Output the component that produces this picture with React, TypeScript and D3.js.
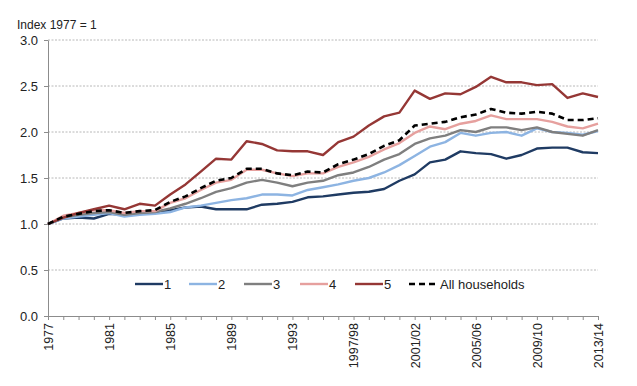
import * as d3 from "d3";
import { useRef, useEffect } from "react";

const years = [
  "1977", "1978", "1979", "1980", "1981", "1982", "1983", "1984", "1985", "1986",
  "1987", "1988", "1989", "1990", "1991", "1992", "1993", "1994/95", "1995/96",
  "1996/97", "1997/98", "1998/99", "1999/00", "2000/01", "2001/02", "2002/03",
  "2003/04", "2004/05", "2005/06", "2006/07", "2007/08", "2008/09", "2009/10",
  "2010/11", "2011/12", "2012/13", "2013/14",
];
const labelYears = ["1977", "1981", "1985", "1989", "1993", "1997/98", "2001/02", "2005/06", "2009/10", "2013/14"];
const yTicks = [0, 0.5, 1, 1.5, 2, 2.5, 3];

const q1 = [1.00, 1.06, 1.07, 1.06, 1.11, 1.10, 1.11, 1.12, 1.15, 1.18, 1.19, 1.16, 1.16, 1.16, 1.21, 1.22, 1.24, 1.29, 1.30, 1.32, 1.34, 1.35, 1.38, 1.47, 1.54, 1.67, 1.70, 1.79, 1.77, 1.76, 1.71, 1.75, 1.82, 1.83, 1.83, 1.78, 1.77];
const q2 = [1.00, 1.06, 1.08, 1.10, 1.12, 1.08, 1.10, 1.11, 1.13, 1.18, 1.20, 1.23, 1.26, 1.28, 1.32, 1.32, 1.31, 1.37, 1.40, 1.43, 1.47, 1.50, 1.56, 1.64, 1.74, 1.84, 1.89, 1.99, 1.96, 1.99, 2.00, 1.96, 2.04, 2.00, 1.99, 1.97, 2.01];
const q3 = [1.00, 1.07, 1.10, 1.12, 1.13, 1.10, 1.12, 1.13, 1.17, 1.22, 1.28, 1.35, 1.39, 1.45, 1.48, 1.45, 1.41, 1.45, 1.47, 1.53, 1.56, 1.62, 1.70, 1.76, 1.87, 1.93, 1.96, 2.02, 2.00, 2.05, 2.05, 2.02, 2.05, 2.00, 1.98, 1.96, 2.02];
const q4 = [1.00, 1.09, 1.12, 1.15, 1.15, 1.12, 1.14, 1.14, 1.23, 1.28, 1.37, 1.45, 1.48, 1.59, 1.59, 1.55, 1.52, 1.55, 1.55, 1.62, 1.67, 1.73, 1.81, 1.88, 1.99, 2.06, 2.03, 2.09, 2.12, 2.18, 2.14, 2.14, 2.14, 2.11, 2.06, 2.04, 2.09];
const q5 = [1.00, 1.07, 1.12, 1.16, 1.20, 1.16, 1.22, 1.20, 1.32, 1.43, 1.57, 1.71, 1.70, 1.90, 1.87, 1.80, 1.79, 1.79, 1.75, 1.89, 1.95, 2.07, 2.17, 2.21, 2.45, 2.36, 2.42, 2.41, 2.49, 2.60, 2.54, 2.54, 2.51, 2.52, 2.37, 2.42, 2.38];
const allHouseholds = [1.00, 1.08, 1.11, 1.14, 1.15, 1.12, 1.14, 1.15, 1.24, 1.30, 1.39, 1.47, 1.50, 1.60, 1.60, 1.55, 1.53, 1.57, 1.56, 1.65, 1.70, 1.76, 1.85, 1.91, 2.07, 2.09, 2.11, 2.16, 2.19, 2.25, 2.21, 2.20, 2.22, 2.20, 2.13, 2.13, 2.15];

const seriesNames = ["1", "2", "3", "4", "5", "All households"];
const seriesValues = [q1, q2, q3, q4, q5, allHouseholds];
const seriesColors = ["#1f3b63", "#8db4e2", "#7f7f7f", "#e6a09e", "#953735", "#000000"];

const W = 637, H = 386;
const left = 48, right = 598, top = 40, bottom = 316;
const font = "'Liberation Sans', Arial, sans-serif";

export default function App() {
  const xAxisRef = useRef<SVGGElement>(null);
  const yAxisRef = useRef<SVGGElement>(null);

  const x = d3.scalePoint<string>().domain(years).range([left, right]);
  const y = d3.scaleLinear().domain([0, 3]).range([bottom, top]);

  useEffect(() => {
    const gx = d3.select(xAxisRef.current);
    gx.selectAll("*").remove();
    gx.call(
      d3.axisBottom(x)
        .tickSizeInner(4)
        .tickSizeOuter(0)
        .tickFormat(d => (labelYears.includes(d) ? d : ""))
    );
    gx.select(".domain").attr("stroke", "#8c8c8c");
    gx.selectAll(".tick line").attr("stroke", "#8c8c8c");
    gx.selectAll(".tick text")
      .attr("font-family", font)
      .attr("font-size", 12.5)
      .attr("fill", "#222")
      .attr("transform", "rotate(-90)")
      .attr("text-anchor", "end")
      .attr("x", -7)
      .attr("y", 0)
      .attr("dy", "0.35em");

    const gy = d3.select(yAxisRef.current);
    gy.selectAll("*").remove();
    gy.call(
      d3.axisLeft(y)
        .tickValues(yTicks)
        .tickSizeInner(4)
        .tickSizeOuter(0)
        .tickPadding(6)
        .tickFormat(d3.format(".1f"))
    );
    gy.select(".domain").attr("stroke", "#8c8c8c");
    gy.selectAll(".tick line").attr("stroke", "#8c8c8c");
    gy.selectAll(".tick text")
      .attr("font-family", font)
      .attr("font-size", 13)
      .attr("fill", "#222");
  }, []);

  const line = d3.line<number>()
    .x((_, i) => x(years[i]) as number)
    .y(v => y(v));

  const legendX = [135, 189, 244, 300, 355, 409];

  return (
    <svg width={W} height={H} style={{ position: "absolute", left: 0, top: 0, background: "#fff" }}>
      <text x={17} y={29} fontFamily={font} fontSize={12} fill="#222">Index 1977 = 1</text>
      <g>
        {yTicks.filter(t => t > 0).map(t => (
          <line key={t} x1={left} x2={right} y1={y(t)} y2={y(t)}
            stroke="#b8b8b8" strokeWidth={1} strokeDasharray="2,1.5" />
        ))}
      </g>
      <g ref={yAxisRef} transform={`translate(${left},0)`} />
      <g ref={xAxisRef} transform={`translate(0,${bottom})`} />
      <g fill="none">
        {seriesValues.map((vals, k) => (
          <path key={k} d={line(vals) as string}
            stroke={seriesColors[k]}
            strokeWidth={k === 5 ? 2.6 : 2.4}
            strokeDasharray={k === 5 ? "6,4" : undefined}
            strokeLinejoin="round" />
        ))}
      </g>
      <g fontFamily={font} fontSize={13} fill="#222">
        {seriesNames.map((name, k) => (
          <g key={name} transform={`translate(${legendX[k]},284)`}>
            <line x1={0} x2={k === 5 ? 26 : 28} y1={0} y2={0}
              stroke={seriesColors[k]} strokeWidth={k === 5 ? 2.6 : 2.4}
              strokeDasharray={k === 5 ? "6,4" : undefined} />
            <text x={k === 5 ? 31 : 29} y={0} dy="0.36em">{name}</text>
          </g>
        ))}
      </g>
    </svg>
  );
}
